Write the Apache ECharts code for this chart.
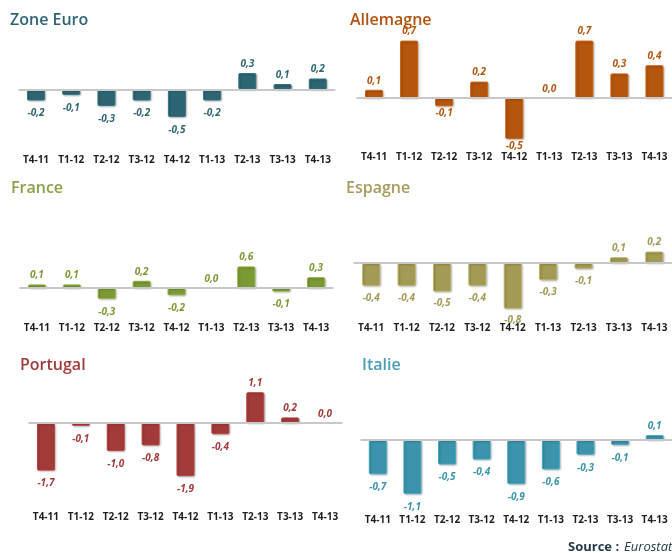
<!DOCTYPE html>
<html>
<head>
<meta charset="utf-8">
<script src="https://cdn.jsdelivr.net/npm/echarts@6/dist/echarts.min.js"></script>
<style>
  html, body { margin: 0; padding: 0; background: #fff; }
  #chart { width: 672px; height: 553px; }
</style>
</head>
<body>
<div id="chart"></div>
<script>
const quarters = ['T4-11', 'T1-12', 'T2-12', 'T3-12', 'T4-12', 'T1-13', 'T2-13', 'T3-13', 'T4-13'];

const zoneEuro = [-0.2, -0.1, -0.3, -0.2, -0.5, -0.2, 0.3, 0.1, 0.2];
const allemagne = [0.1, 0.7, -0.1, 0.2, -0.5, 0.0, 0.7, 0.3, 0.4];
const france = [0.1, 0.1, -0.3, 0.2, -0.2, 0.0, 0.6, -0.1, 0.3];
const espagne = [-0.4, -0.4, -0.5, -0.4, -0.8, -0.3, -0.1, 0.1, 0.2];
const portugal = [-1.7, -0.1, -1.0, -0.8, -1.9, -0.4, 1.1, 0.2, 0.0];
const italie = [-0.7, -1.1, -0.5, -0.4, -0.9, -0.6, -0.3, -0.1, 0.1];

// panel layout: pixel placement of each small chart
const panels = [
  { name: 'Zone Euro', data: zoneEuro, color: '#2e6572', title: '#2f6676', tx: 5, ty: 7, left: 18.4, width: 317, top: 45, zero: 89.5, ppu: 55, labelY: 160, neg: 8 },
  { name: 'Allemagne', data: allemagne, color: '#b5560f', title: '#b0530f', tx: 345, ty: 7, left: 356.5, width: 317, top: 25, zero: 98, ppu: 82, labelY: 157, neg: 2 },
  { name: 'France', data: france, color: '#7c9a34', title: '#8aa246', tx: 6, ty: 175, left: 19.5, width: 314, top: 230, zero: 288, ppu: 36, labelY: 328, neg: 8 },
  { name: 'Espagne', data: espagne, color: '#a39a55', title: '#a89c5c', tx: 341, ty: 175, left: 353.5, width: 318.6, top: 230, zero: 263, ppu: 57, labelY: 328, neg: 7 },
  { name: 'Portugal', data: portugal, color: '#a33a3a', title: '#a23a3a', tx: 15, ty: 352, left: 28.5, width: 314, top: 385, zero: 423, ppu: 28, labelY: 517, neg: 8 },
  { name: 'Italie', data: italie, color: '#3b94ab', title: '#4a9db6', tx: 357, ty: 352, left: 360.5, width: 314, top: 400, zero: 440, ppu: 49, labelY: 520, neg: 8 }
];

const fmt = v => v.toFixed(1).replace('.', ',');

const chart = echarts.init(document.getElementById('chart'));

const grids = [], xAxes = [], yAxes = [], series = [], titles = [];

panels.forEach((p, i) => {
  const bottom = p.labelY - 11;
  grids.push({ left: p.left, top: p.top, width: p.width, height: bottom - p.top });
  xAxes.push({
    type: 'category', gridIndex: i, data: quarters,
    axisLine: { show: false }, axisTick: { show: false },
    axisLabel: { margin: 6, color: '#1e1e1e', fontSize: 10, fontWeight: 'bold', fontFamily: 'Open Sans' }
  });
  yAxes.push({
    type: 'value', gridIndex: i, show: false,
    min: -(bottom - p.zero) / p.ppu, max: (p.zero - p.top) / p.ppu,
    splitLine: { show: false }
  });
  series.push({
    type: 'bar', xAxisIndex: i, yAxisIndex: i, barWidth: 18,
    data: p.data.map(v => ({
      value: v,
      itemStyle: v === 0 ? { borderWidth: 0, shadowBlur: 0, shadowOffsetX: 0, shadowOffsetY: 0 } : {},
      label: { position: v >= 0 ? 'top' : 'bottom', distance: v >= 0 ? 4 : p.neg }
    })),
    itemStyle: {
      color: p.color, borderColor: echarts.color.lift(p.color, -0.15), borderWidth: 1,
      borderRadius: 1, shadowColor: 'rgba(0,0,0,0.25)', shadowBlur: 2, shadowOffsetX: 1, shadowOffsetY: 1
    },
    label: {
      show: true, formatter: d => fmt(d.value), color: p.color,
      fontSize: 10, fontWeight: 'bold', fontStyle: 'italic', fontFamily: 'Open Sans'
    },
    markLine: {
      silent: true, symbol: 'none', label: { show: false },
      lineStyle: { color: '#c8c8c8', width: 2, type: 'solid' },
      data: [{ yAxis: 0 }]
    }
  });
  titles.push({
    text: p.name, left: p.tx, top: p.ty,
    textStyle: { color: p.title, fontSize: 16, fontWeight: 600, fontFamily: 'Open Sans' }
  });
});

titles.push({
  text: '{b|Source :} {i|Eurostat}', left: 563, top: 533,
  textStyle: {
    rich: {
      b: { fontSize: 13, fontWeight: 'bold', color: '#243b4a', fontFamily: 'Open Sans' },
      i: { fontSize: 13, fontWeight: 'normal', fontStyle: 'italic', color: '#243b4a', fontFamily: 'Open Sans' }
    }
  }
});

chart.setOption({
  animation: false,
  title: titles,
  grid: grids,
  xAxis: xAxes,
  yAxis: yAxes,
  series: series
});
</script>
</body>
</html>
